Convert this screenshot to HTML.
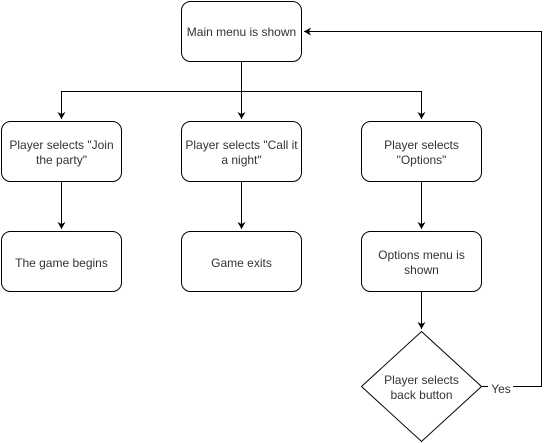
<!DOCTYPE html>
<html><head><meta charset="utf-8"><style>
html,body{margin:0;padding:0;background:#fff;width:551px;height:443px;overflow:hidden}
svg text{font-family:"Liberation Sans",Arial,sans-serif;font-size:12px;fill:#333}
</style></head><body>
<svg width="551" height="443" viewBox="0 0 551 443" xmlns="http://www.w3.org/2000/svg">
<defs><marker id="a" markerWidth="10" markerHeight="10" refX="8" refY="5" orient="auto" markerUnits="userSpaceOnUse"><path d="M1,1 L8,5 L1,9 L3,5 Z" fill="#000"/></marker></defs>
<g fill="#fff" stroke="#000" stroke-width="1">
<rect x="181.5" y="1.5" width="120" height="60" rx="9"/>
<rect x="1.5" y="121.5" width="120" height="60" rx="9"/>
<rect x="181.5" y="121.5" width="120" height="60" rx="9"/>
<rect x="361.5" y="121.5" width="120" height="60" rx="9"/>
<rect x="1.5" y="231.5" width="120" height="60" rx="9"/>
<rect x="181.5" y="231.5" width="120" height="60" rx="9"/>
<rect x="361.5" y="231.5" width="120" height="60" rx="9"/>
<path d="M421.5,331.5 L481.5,386.5 L421.5,441.5 L361.5,386.5 Z"/>
</g>
<g fill="none" stroke="#000" stroke-width="1">
<path d="M241.5,61.5 V119" marker-end="url(#a)"/>
<path d="M241.5,91.5 H61.5 V119" marker-end="url(#a)"/>
<path d="M241.5,91.5 H421.5 V119" marker-end="url(#a)"/>
<path d="M61.5,181.5 V229" marker-end="url(#a)"/>
<path d="M241.5,181.5 V229" marker-end="url(#a)"/>
<path d="M421.5,181.5 V229" marker-end="url(#a)"/>
<path d="M421.5,291.5 V329" marker-end="url(#a)"/>
<path d="M481.5,386.5 H541.5 V31.5 H304" marker-end="url(#a)"/>
</g>
<rect x="488" y="380" width="25" height="14" fill="#fff"/>
<g text-anchor="middle">
<text x="241.5" y="36">Main menu is shown</text>
<text x="61.5" y="149">Player selects "Join</text>
<text x="61.5" y="164">the party"</text>
<text x="241.5" y="149">Player selects "Call it</text>
<text x="241.5" y="164">a night"</text>
<text x="421.5" y="149">Player selects</text>
<text x="421.5" y="164">"Options"</text>
<text x="61.5" y="267">The game begins</text>
<text x="241.5" y="267">Game exits</text>
<text x="421.5" y="259">Options menu is</text>
<text x="421.5" y="274">shown</text>
<text x="421.5" y="384">Player selects</text>
<text x="421.5" y="399">back button</text>
<text x="501" y="393">Yes</text>
</g>
</svg>
</body></html>
